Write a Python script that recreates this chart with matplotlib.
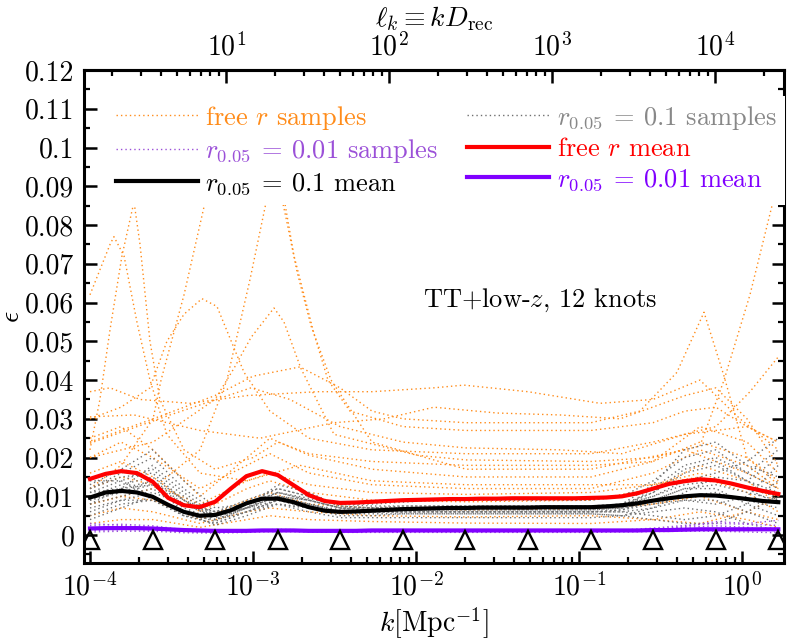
import numpy as np
import matplotlib.pyplot as plt
from matplotlib.lines import Line2D
from matplotlib.ticker import MultipleLocator, FixedLocator, NullFormatter

plt.rcParams['font.family'] = 'serif'
plt.rcParams['font.serif'] = ['cmr10']
plt.rcParams['mathtext.fontset'] = 'cm'
plt.rcParams['axes.formatter.use_mathtext'] = True

# comoving distance to recombination (Mpc), for the top axis
D_rec = 14600.0

# knot positions k [Mpc^-1]
knots = [1.0e-4, 2.42e-4, 5.86e-4, 1.42e-3, 3.43e-3, 8.3e-3,
         2.01e-2, 4.86e-2, 0.118, 0.285, 0.69, 1.67]

# grids used by the mean curves and the r-fixed samples
k_fine = np.logspace(-4, 0.223, 45)
k_grid = np.logspace(-4, 0.223, 23)

# means
free_r_mean = [.0145, .0158, .0165, .0160, .0138, .0096, .0077, .0072, .0086, .0120,
               .0152, .0165, .0155, .0129, .0103, .0088, .0083, .0084, .0086, .0088,
               .0090, .0091, .0092, .0093, .0093, .0094, .0094, .0095, .0095, .0095,
               .0095, .0095, .0096, .0097, .0100, .0108, .0120, .0132, .0139, .0144,
               .0141, .0133, .0123, .0114, .0106]
r01_mean = [.0097, .0110, .0114, .0110, .0099, .0078, .0060, .0050, .0052, .0064,
            .0082, .0094, .0094, .0085, .0072, .0063, .0060, .0061, .0063, .0065,
            .0067, .0068, .0069, .0070, .0070, .0071, .0071, .0071, .0071, .0072,
            .0072, .0072, .0072, .0074, .0077, .0082, .0089, .0095, .0100, .0103,
            .0102, .0098, .0093, .0088, .0085]
r001_mean = [.0017, .0018, .0018, .0018, .0017, .0015, .0013, .0012, .0011, .0011,
             .0011, .0012, .0012, .0012, .0011, .0011, .0011, .0011, .0012, .0012,
             .0012, .0012, .0012, .0012, .0012, .0012, .0012, .0012, .0012, .0012,
             .0012, .0012, .0012, .0012, .0012, .0012, .0013, .0013, .0014, .0015,
             .0015, .0015, .0015, .0015, .0015]

# free r samples: (log10 k, epsilon) read point by point
lk_low = [-4.0, -3.81, -3.613, -3.325, -3.037, -2.896, -2.656, -2.27, -1.693,
          -0.926, -0.546, -0.258, 0.031, 0.223]
free_r_samples = [
    ([-4.0, -3.877, -3.853, -3.791, -3.712, -3.632, -3.528, -3.325, -3.037, -2.712,
      -2.27, -1.693, -1.117, -0.546, -0.258, 0.031, 0.223],
     [.062, .075, .077, .072, .055, .040, .026, .016, .014, .018,
      .014, .013, .013, .013, .016, .012, .010]),
    ([-4.0, -3.939, -3.877, -3.804, -3.730, -3.693, -3.632, -3.571, -3.423, -3.233,
      -3.0, -2.847, -2.656, -2.27, -1.693, -0.926, -0.546, -0.258, 0.031, 0.223],
     [.022, .035, .053, .072, .086, .075, .050, .035, .022, .017,
      .020, .024, .021, .019, .018, .018, .019, .024, .020, .014]),
    ([-4.0, -3.81, -3.613, -3.564, -3.423, -3.288, -3.141, -3.006, -2.859, -2.810,
      -2.748, -2.626, -2.540, -2.405, -2.08, -1.693, -1.313, -0.926, -0.546, -0.35,
      -0.16, 0.031, 0.223],
     [.012, .018, .030, .040, .062, .087, .100, .104, .098, .087,
      .072, .052, .040, .032, .028, .027, .027, .027, .029, .032,
      .033, .028, .024]),
    ([-4.0, -3.613, -3.325, -3.160, -3.018, -2.914, -2.865, -2.798, -2.730, -2.644,
      -2.521, -2.27, -1.693, -0.926, -0.35, 0.031, 0.223],
     [.008, .012, .022, .040, .066, .087, .095, .082, .068, .054,
      .040, .024, .017, .017, .022, .016, .012]),
    ([-4.0, -3.81, -3.632, -3.528, -3.423, -3.313, -3.221, -3.104, -3.055, -2.896,
      -2.656, -2.27, -1.693, -0.926, -0.546, -0.16, 0.049, 0.223],
     [.030, .033, .038, .050, .057, .061, .059, .047, .042, .032,
      .025, .022, .021, .021, .024, .028, .037, .046]),
    ([-4.0, -3.613, -3.233, -3.117, -3.012, -2.871, -2.810, -2.706, -2.503, -1.994,
      -1.693, -0.926, -0.546, -0.258, -0.11, 0.049, 0.196, 0.223],
     [.020, .024, .035, .043, .051, .0586, .055, .043, .026, .0206,
      .0194, .019, .020, .023, .040, .062, .087, .092]),
    ([-4.0, -3.81, -3.613, -3.423, -3.233, -3.0, -2.712, -2.466, -2.27, -2.08,
      -1.693, -1.313, -0.926, -0.626, -0.399, -0.233, -0.11, 0.031, 0.223],
     [.024, .027, .030, .033, .036, .041, .0434, .038, .032, .030,
      .029, .029, .029, .032, .042, .0575, .041, .020, .013]),
    ([-4.0, -3.877, -3.693, -3.387, -3.037, -2.607, -2.27, -1.89, -1.706, -1.313,
      -0.871, -0.546, -0.258, -0.012, 0.223],
     [.037, .038, .035, .034, .036, .037, .037, .038, .0387, .037,
      .034, .035, .040, .030, .022]),
    ([-4.0, -3.73, -3.325, -2.957, -2.503, -2.196, -1.89, -1.503, -1.117, -0.748,
      -0.35, -0.16, 0.031, 0.223],
     [.0305, .031, .027, .025, .029, .030, .033, .0315, .031, .030,
      .036, .038, .030, .018]),
    ([-4.0, -3.509, -3.012, -2.773, -2.466, -2.08, -1.693, -1.117, -0.736, -0.35,
      0.031, 0.223],
     [.0237, .031, .038, .035, .028, .024, .0225, .022, .021, .026,
      .028, .024]),
    (lk_low, [.020, .024, .020, .012, .018, .021, .016, .013, .012, .012, .016, .022, .018, .012]),
    (lk_low, [.016, .019, .015, .006, .012, .014, .011, .009, .0086, .009, .012, .018, .014, .008]),
    (lk_low, [.008, .010, .009, .004, .009, .011, .008, .007, .0065, .0068, .008, .010, .006, .004]),
    (lk_low, [.005, .007, .006, .003, .006, .007, .006, .005, .0047, .005, .004, .003, .006, .010]),
    (lk_low, [.003, .004, .004, .002, .004, .005, .004, .0035, .0031, .003, .004, .006, .004, .002]),
    (lk_low, [.025, .028, .022, .010, .020, .025, .0206, .017, .015, .015, .019, .028, .024, .016]),
    (lk_low, [.012, .015, .013, .008, .014, .016, .013, .011, .0105, .011, .013, .015, .011, .006]),
]

# r_0.05 = 0.1 samples on k_grid (x1e-3)
r01_samples = [
    [12, 16, 20, 12, 6, 9, 12, 10, 8, 8, 8.5, 9, 9, 9, 9, 9, 9, 10, 14, 20, 22, 16, 12],
    [8, 10, 12, 7, 4, 7, 10, 8, 6, 6, 6.5, 6.5, 6.5, 6.5, 6.5, 6.5, 6.5, 7, 9, 12, 13, 11, 9],
    [6, 9, 9, 5, 3, 6, 9, 7, 5, 5, 5.5, 5.5, 5.5, 5.5, 5.5, 5.5, 5.5, 5, 4, 3, 3, 6, 10],
    [10, 13, 15, 9, 5, 8, 11, 9, 7, 7, 7.5, 7.5, 7.5, 7.5, 7.5, 7.5, 7.5, 8, 11, 16, 18, 14, 20],
    [14, 14, 10, 5, 4, 7, 9, 8, 6, 6, 6, 6, 6, 6, 6, 6, 6, 6.5, 8, 10, 11, 9, 7],
    [4, 7, 10, 6, 2.5, 5, 8, 6, 4.5, 4.5, 4.5, 4.5, 4.5, 4.5, 4.5, 4.5, 4.5, 5, 7, 9, 9, 6, 3],
    [9, 12, 18, 11, 5, 7, 10, 9, 7, 6.5, 7, 7, 7, 7, 7, 7, 7, 7.5, 10, 14, 16, 19, 25],
    [11, 12, 14, 8, 4.5, 7, 13, 11, 7.5, 7, 7, 7, 7, 7, 7, 7, 7, 8, 13, 22, 24, 18, 15],
    [7, 9, 11, 8, 6, 7, 8, 7, 6, 6, 6, 6, 6, 6, 6, 6, 6, 6, 5, 4, 5, 8, 14],
    [12, 15, 16, 9, 4, 6, 9, 8, 6.5, 6, 6, 6, 6, 6, 6, 6, 6, 6.5, 9, 12, 12, 8, 5],
    [13, 17, 22, 14, 7, 8, 10, 9, 7, 7, 7, 7, 7, 7, 7, 7, 7, 7.5, 11, 17, 19, 14, 9],
    [5, 8, 9, 5, 3, 6, 8, 7, 5.5, 5.5, 5.5, 5.5, 5.5, 5.5, 5.5, 5.5, 5.5, 5, 6, 7, 6, 3, 1],
    [10, 11, 13, 8, 5, 8, 11, 9.5, 7.5, 7, 7, 7, 7, 7, 7, 7, 7, 7, 8, 9, 8, 10, 18],
    [8, 12, 13, 6, 3.5, 7, 10, 8, 6, 6, 6, 6, 6, 6, 6, 6, 6, 6, 7, 11, 15, 14, 11],
    [11, 14, 17, 10, 5, 7, 11, 9, 7, 6.5, 6.5, 6.5, 6.5, 6.5, 6.5, 6.5, 6.5, 7, 12, 18, 20, 16, 22],
    [9, 11, 14, 9, 6, 8, 12, 10, 8, 7.5, 7.5, 7.5, 7.5, 7.5, 7.5, 7.5, 7.5, 8, 10, 13, 14, 12, 8],
]

# r_0.05 = 0.01 samples on k_grid (x1e-3)
r001_samples = [
    [1.5, 1.8, 1.5, 1.0, 0.8, 1.0, 1.2, 1.1, 1.0, 1.0, 1.0, 1.0, 1.0, 1.0, 1.0, 1.0, 1.0, 1.1, 1.3, 1.6, 1.7, 1.5, 1.3],
    [2.5, 2.8, 2.4, 1.4, 0.9, 1.1, 1.5, 1.3, 1.2, 1.2, 1.2, 1.2, 1.2, 1.2, 1.2, 1.2, 1.2, 1.3, 1.8, 2.5, 3.0, 2.8, 2.5],
    [0.8, 1.0, 1.0, 0.6, 0.5, 0.7, 0.9, 0.8, 0.7, 0.7, 0.7, 0.7, 0.7, 0.7, 0.7, 0.7, 0.7, 0.8, 0.9, 1.0, 1.0, 0.8, 0.6],
    [2.0, 2.2, 2.0, 1.2, 0.9, 1.2, 1.4, 1.2, 1.1, 1.1, 1.1, 1.1, 1.1, 1.1, 1.1, 1.1, 1.1, 1.2, 1.5, 2.2, 3.5, 3.0, 3.8],
    [1.2, 1.4, 1.3, 0.9, 0.7, 0.9, 1.1, 1.0, 0.9, 0.9, 0.9, 0.9, 0.9, 0.9, 0.9, 0.9, 0.9, 1.0, 1.2, 1.4, 1.5, 1.4, 2.0],
    [3.0, 2.5, 1.8, 1.1, 0.8, 1.0, 1.3, 1.2, 1.1, 1.0, 1.0, 1.0, 1.0, 1.0, 1.0, 1.0, 1.0, 1.1, 1.4, 2.0, 2.4, 2.0, 1.0],
]

ytick_vals = [0, 0.01, 0.02, 0.03, 0.04, 0.05, 0.06, 0.07, 0.08, 0.09, 0.1, 0.11, 0.12]
ytick_labels = ['0', '0.01', '0.02', '0.03', '0.04', '0.05', '0.06', '0.07', '0.08',
                '0.09', '0.1', '0.11', '0.12']
ell_major = [10, 100, 1000, 10000]
ell_minor = [m * d for d in (1, 10, 100, 1000, 10000) for m in range(2, 10)]

c_orange = '#ff8c1a'
c_gray = '#707070'
c_psamp = '#9b50d8'
c_pmean = '#8000ff'
FS = 20
FS_LEG = 19
dots = dict(ls=(0, (1, 2.2)), lw=1.0)

fig = plt.figure(figsize=(7.88, 6.40), dpi=100)
ax = fig.add_axes([0.1066, 0.1203, 0.8883, 0.7703])

for lk, eps in free_r_samples:
    ax.plot(10 ** np.array(lk), eps, color=c_orange, **dots)
for eps in r01_samples:
    ax.plot(k_grid, np.array(eps) * 1e-3, color=c_gray, **dots)
for eps in r001_samples:
    ax.plot(k_grid, np.array(eps) * 1e-3, color=c_psamp, **dots)

ax.plot(k_fine, free_r_mean, color='red', lw=3)
ax.plot(k_fine, r01_mean, color='black', lw=3)
ax.plot(k_fine, r001_mean, color=c_pmean, lw=3)

ax.plot(knots, [-0.0013] * len(knots), ls='none', marker='^', ms=13.5,
        mfc='none', mec='k', mew=1.7)

ax.set_xscale('log')
ax.set_xlim(9.19e-5, 1.81)
ax.set_ylim(-0.0072, 0.12)
ax.set_yticks(ytick_vals)
ax.set_yticklabels(ytick_labels)
ax.yaxis.set_minor_locator(MultipleLocator(0.005))
ax.tick_params(which='both', direction='in', top=False, right=True, labelsize=FS)
ax.tick_params(axis='x', which='both', pad=7)
ax.tick_params(axis='y', which='both', pad=7)
ax.tick_params(which='major', length=9, width=1.8)
ax.tick_params(which='minor', length=4.5, width=1.6)
for sp in ax.spines.values():
    sp.set_linewidth(2.2)

ax.set_xlabel(r'$k[\mathrm{Mpc}^{-1}]$', fontsize=FS, labelpad=3)
ax.set_ylabel(r'$\epsilon$', fontsize=FS, labelpad=0)

secax = ax.secondary_xaxis('top', functions=(lambda k: k * D_rec, lambda l: l / D_rec))
secax.xaxis.set_major_locator(FixedLocator(ell_major))
secax.xaxis.set_minor_locator(FixedLocator(ell_minor))
secax.xaxis.set_minor_formatter(NullFormatter())
secax.tick_params(which='both', direction='in', labelsize=FS, pad=6)
secax.tick_params(which='major', length=9, width=1.8)
secax.tick_params(which='minor', length=4.5, width=1.6)
secax.spines['top'].set_linewidth(2.2)
secax.set_xlabel(r'$\ell_k \equiv kD_{\rm rec}$', fontsize=FS, labelpad=5)

ax.text(0.058, 0.0606, 'TT+low-$z$, 12 knots', fontsize=FS_LEG, ha='center', va='center')

handles = [
    Line2D([], [], color=c_orange, **dots),
    Line2D([], [], color=c_psamp, **dots),
    Line2D([], [], lw=3, color='black'),
    Line2D([], [], color=c_gray, **dots),
    Line2D([], [], lw=3, color='red'),
    Line2D([], [], lw=3, color=c_pmean),
]
labels = ['free $r$ samples', r'$r_{0.05}\:=\:0.01$ samples', r'$r_{0.05}\:=\:0.1$ mean',
          r'$r_{0.05}\:=\:0.1$ samples', 'free $r$ mean', r'$r_{0.05}\:=\:0.01$ mean']
text_colors = [c_orange, c_psamp, 'black', '#888888', 'red', c_pmean]
leg = ax.legend(handles, labels, ncol=2, loc='upper left', bbox_to_anchor=(0.034, 0.948),
                fontsize=FS_LEG, handlelength=3.1, handletextpad=0.3, columnspacing=1.1,
                labelspacing=0.22, borderpad=0.3, borderaxespad=0, frameon=True,
                fancybox=False, framealpha=1)
leg.get_frame().set_facecolor('white')
leg.get_frame().set_edgecolor('none')
for t, c in zip(leg.get_texts(), text_colors):
    t.set_color(c)

fig.savefig('out.png', dpi=100)
